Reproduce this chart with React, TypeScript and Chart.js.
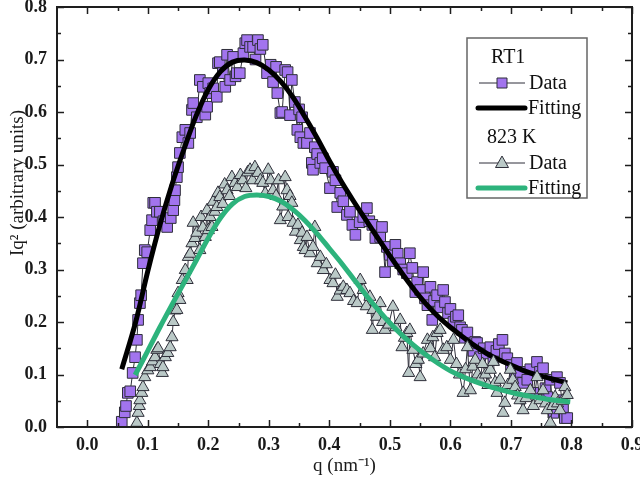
import React, { useEffect, useRef } from 'react';
import { Chart, registerables } from 'chart.js';

Chart.register(...registerables);

// ---- Data ----
const rt1Q = [0.057,0.062,0.064,0.067,0.071,0.075,0.079,0.082,0.084,0.087,0.089,0.092,0.095,0.099,0.104,0.107,0.109,0.112,0.115,0.120,0.126,0.132,0.138,0.142,0.144,0.145,0.148,0.150,0.153,0.157,0.162,0.167,0.170,0.173,0.175,0.181,0.186,0.191,0.195,0.198,0.200,0.203,0.208,0.214,0.216,0.219,0.224,0.228,0.231,0.236,0.241,0.245,0.247,0.252,0.258,0.261,0.264,0.269,0.274,0.278,0.282,0.286,0.290,0.297,0.303,0.307,0.312,0.314,0.319,0.322,0.327,0.331,0.335,0.338,0.343,0.347,0.350,0.352,0.355,0.357,0.363,0.368,0.371,0.373,0.376,0.380,0.385,0.389,0.393,0.401,0.406,0.410,0.413,0.418,0.423,0.429,0.434,0.438,0.443,0.450,0.456,0.462,0.466,0.471,0.476,0.484,0.487,0.492,0.495,0.500,0.505,0.509,0.513,0.517,0.522,0.528,0.533,0.537,0.542,0.545,0.550,0.555,0.558,0.562,0.567,0.570,0.573,0.578,0.583,0.588,0.591,0.596,0.600,0.605,0.609,0.613,0.616,0.619,0.624,0.628,0.633,0.638,0.641,0.644,0.649,0.655,0.660,0.666,0.671,0.676,0.680,0.686,0.690,0.694,0.700,0.707,0.710,0.716,0.720,0.727,0.732,0.737,0.743,0.748,0.753,0.757,0.760,0.765,0.770,0.776,0.781,0.784,0.786,0.789,0.793];
const rt1Iq2 = [0.010,0.028,0.040,0.065,0.068,0.103,0.133,0.166,0.204,0.236,0.251,0.312,0.337,0.333,0.375,0.394,0.427,0.427,0.410,0.410,0.392,0.381,0.398,0.413,0.432,0.451,0.476,0.495,0.522,0.552,0.566,0.541,0.560,0.604,0.617,0.590,0.661,0.648,0.595,0.610,0.655,0.636,0.645,0.629,0.693,0.695,0.674,0.648,0.709,0.661,0.705,0.668,0.674,0.674,0.712,0.731,0.737,0.724,0.724,0.700,0.737,0.720,0.728,0.674,0.690,0.657,0.686,0.636,0.598,0.600,0.680,0.676,0.594,0.661,0.619,0.566,0.605,0.552,0.590,0.541,0.541,0.560,0.503,0.490,0.533,0.520,0.503,0.512,0.493,0.455,0.486,0.470,0.419,0.446,0.430,0.404,0.410,0.385,0.366,0.390,0.400,0.417,0.392,0.385,0.360,0.362,0.381,0.295,0.343,0.328,0.316,0.347,0.330,0.312,0.300,0.293,0.331,0.303,0.257,0.276,0.261,0.295,0.245,0.232,0.267,0.204,0.240,0.251,0.228,0.261,0.238,0.217,0.225,0.200,0.210,0.213,0.190,0.185,0.170,0.180,0.156,0.145,0.162,0.160,0.133,0.150,0.140,0.152,0.128,0.145,0.158,0.166,0.140,0.131,0.118,0.095,0.122,0.105,0.084,0.090,0.110,0.065,0.124,0.105,0.112,0.074,0.057,0.090,0.027,0.095,0.084,0.051,0.038,0.017,0.017];

const k823Q = [0.082,0.084,0.086,0.087,0.090,0.092,0.095,0.100,0.104,0.108,0.112,0.115,0.117,0.121,0.124,0.125,0.129,0.133,0.137,0.140,0.142,0.145,0.148,0.150,0.153,0.157,0.162,0.165,0.167,0.170,0.173,0.175,0.178,0.181,0.186,0.188,0.191,0.195,0.198,0.200,0.203,0.206,0.208,0.211,0.214,0.216,0.219,0.224,0.227,0.231,0.235,0.239,0.244,0.248,0.253,0.257,0.262,0.265,0.269,0.273,0.277,0.282,0.286,0.290,0.294,0.299,0.303,0.307,0.312,0.316,0.319,0.323,0.327,0.330,0.332,0.335,0.338,0.340,0.344,0.348,0.352,0.355,0.357,0.360,0.363,0.368,0.373,0.376,0.380,0.385,0.390,0.395,0.401,0.406,0.410,0.413,0.418,0.423,0.429,0.434,0.440,0.446,0.451,0.456,0.461,0.467,0.471,0.472,0.478,0.484,0.488,0.492,0.498,0.505,0.510,0.517,0.520,0.524,0.528,0.531,0.533,0.538,0.543,0.547,0.550,0.555,0.562,0.567,0.571,0.574,0.578,0.583,0.588,0.594,0.600,0.605,0.610,0.615,0.621,0.625,0.628,0.633,0.637,0.641,0.645,0.649,0.653,0.658,0.662,0.666,0.671,0.674,0.677,0.682,0.687,0.690,0.695,0.699,0.703,0.707,0.711,0.715,0.720,0.725,0.732,0.737,0.743,0.748,0.753,0.757,0.760,0.765,0.769,0.773,0.777,0.781,0.785,0.789,0.793];
const k823Iq2 = [0.008,0.027,0.040,0.051,0.065,0.076,0.095,0.108,0.114,0.125,0.133,0.147,0.150,0.120,0.103,0.114,0.133,0.141,0.152,0.171,0.200,0.222,0.223,0.255,0.242,0.280,0.299,0.280,0.324,0.330,0.350,0.389,0.360,0.370,0.337,0.400,0.380,0.362,0.413,0.375,0.400,0.381,0.429,0.410,0.419,0.446,0.438,0.425,0.462,0.451,0.440,0.476,0.465,0.457,0.480,0.470,0.455,0.485,0.490,0.470,0.495,0.484,0.470,0.465,0.445,0.490,0.470,0.451,0.440,0.470,0.394,0.420,0.476,0.451,0.400,0.440,0.427,0.389,0.372,0.385,0.356,0.370,0.343,0.337,0.362,0.331,0.343,0.381,0.312,0.324,0.299,0.310,0.280,0.274,0.290,0.248,0.260,0.267,0.261,0.255,0.240,0.236,0.280,0.261,0.230,0.248,0.185,0.223,0.210,0.236,0.200,0.185,0.195,0.229,0.190,0.204,0.152,0.170,0.179,0.103,0.185,0.147,0.120,0.128,0.095,0.140,0.166,0.150,0.171,0.133,0.179,0.185,0.147,0.152,0.128,0.166,0.120,0.100,0.065,0.110,0.152,0.070,0.115,0.128,0.100,0.090,0.120,0.100,0.080,0.109,0.124,0.085,0.065,0.090,0.027,0.046,0.080,0.109,0.090,0.076,0.060,0.051,0.032,0.055,0.070,0.040,0.095,0.051,0.070,0.045,0.032,0.008,0.040,0.057,0.045,0.032,0.050,0.076,0.061];

const rt1FitQ = [0.057,0.08,0.10,0.12,0.14,0.16,0.18,0.20,0.22,0.24,0.26,0.28,0.30,0.32,0.34,0.36,0.38,0.40,0.42,0.44,0.46,0.48,0.50,0.52,0.54,0.56,0.58,0.60,0.62,0.64,0.66,0.68,0.70,0.72,0.74,0.76,0.78,0.793];
const rt1FitIq2 = [0.11,0.2,0.297,0.385,0.462,0.53,0.593,0.643,0.677,0.695,0.699,0.694,0.68,0.658,0.628,0.59,0.55,0.507,0.467,0.43,0.395,0.36,0.326,0.293,0.262,0.234,0.21,0.19,0.172,0.155,0.14,0.128,0.118,0.108,0.1,0.094,0.088,0.084];

const k823FitQ = [0.079,0.10,0.12,0.14,0.16,0.18,0.20,0.22,0.24,0.26,0.28,0.30,0.32,0.34,0.36,0.38,0.40,0.42,0.44,0.46,0.48,0.50,0.52,0.54,0.56,0.58,0.60,0.62,0.64,0.66,0.68,0.70,0.72,0.74,0.76,0.78,0.798];
const k823FitIq2 = [0.099,0.145,0.19,0.233,0.275,0.317,0.36,0.398,0.425,0.439,0.442,0.439,0.43,0.414,0.393,0.368,0.34,0.312,0.282,0.252,0.224,0.198,0.175,0.155,0.137,0.121,0.107,0.096,0.087,0.079,0.072,0.066,0.061,0.057,0.053,0.05,0.048];

const xTicks = [0.0,0.1,0.2,0.3,0.4,0.5,0.6,0.7,0.8,0.9];
const yTicks = [0.0,0.1,0.2,0.3,0.4,0.5,0.6,0.7,0.8];
const xMinor = [0.05,0.15,0.25,0.35,0.45,0.55,0.65,0.75,0.85];
const yMinor = [0.05,0.15,0.25,0.35,0.45,0.55,0.65,0.75];

const groupNames = ['RT1', '823 K'];
const rowNames = ['Data', 'Fitting'];
const xTitle = 'q (nm\u207B\u00B9)';
const yTitle = 'Iq\u00B2 (arbitrary units)';

// ---- Styles ----
const SERIF = '"Liberation Serif", "Times New Roman", serif';
const PURPLE = '#a274ee';
const GREY = '#bac9c7';
const GREEN = '#2db37c';
const EDGE = '#2f2f3a';
const AXIS = '#1e1e1e';

const pts = (q: number[], v: number[]) => q.map((x, i) => ({ x, y: v[i] }));

function drawFrame(chart: any) {
  const ctx: CanvasRenderingContext2D = chart.ctx;
  const a = chart.chartArea;
  const xs = chart.scales.x, ys = chart.scales.y;
  const L = a.left, R = a.right, T = a.top, B = a.bottom;
  ctx.save();
  ctx.strokeStyle = AXIS;
  ctx.lineWidth = 1.5;
  ctx.beginPath();
  const vt = (vals: number[], len: number) => {
    for (const v of vals) {
      const px = Math.round(xs.getPixelForValue(v)) + 0.5;
      ctx.moveTo(px, B); ctx.lineTo(px, B - len);
      ctx.moveTo(px, T); ctx.lineTo(px, T + len);
    }
  };
  const ht = (vals: number[], len: number) => {
    for (const v of vals) {
      const py = Math.round(ys.getPixelForValue(v)) + 0.5;
      ctx.moveTo(L, py); ctx.lineTo(L + len, py);
      ctx.moveTo(R, py); ctx.lineTo(R - len, py);
    }
  };
  vt(xTicks, 7); vt(xMinor, 4);
  ht(yTicks, 7); ht(yMinor, 4);
  ctx.stroke();
  ctx.lineWidth = 2;
  ctx.beginPath();
  ctx.moveTo(L, T); ctx.lineTo(R, T); ctx.lineTo(R, B); ctx.lineTo(L, B); ctx.closePath();
  ctx.stroke();
  ctx.restore();
}

function drawTitlesAndLegend(chart: any) {
  const ctx: CanvasRenderingContext2D = chart.ctx;
  const a = chart.chartArea;
  ctx.save();
  ctx.fillStyle = '#1a1a1a';
  ctx.font = `19px ${SERIF}`;
  ctx.textAlign = 'center';
  ctx.textBaseline = 'middle';
  ctx.fillText(xTitle, (a.left + a.right) / 2, 466);
  ctx.translate(18, 183);
  ctx.rotate(-Math.PI / 2);
  ctx.fillText(yTitle, 0, 0);
  ctx.restore();

  const bx = a.right - 165, by = a.top + 31, bw = 120, bh = 160;
  ctx.save();
  ctx.strokeStyle = '#666';
  ctx.lineWidth = 1.5;
  ctx.strokeRect(bx, by, bw, bh);
  ctx.font = `20px ${SERIF}`;
  ctx.textBaseline = 'middle';
  ctx.textAlign = 'left';
  const groups = [
    { name: groupNames[0], nameX: bx + 24, y0: by + 20, marker: 'rect', fill: PURPLE, fit: '#000' },
    { name: groupNames[1], nameX: bx + 20, y0: by + 100, marker: 'triangle', fill: GREY, fit: GREEN },
  ];
  groups.forEach((g) => {
    ctx.fillStyle = '#111';
    ctx.fillText(g.name, g.nameX, g.y0);
    const yd = g.y0 + 25, yf = g.y0 + 50;
    ctx.strokeStyle = EDGE; ctx.lineWidth = 1;
    ctx.beginPath(); ctx.moveTo(bx + 12, yd); ctx.lineTo(bx + 58, yd); ctx.stroke();
    const cx = bx + 35;
    ctx.fillStyle = g.fill;
    ctx.beginPath();
    if (g.marker === 'rect') {
      ctx.rect(cx - 5, yd - 5, 10, 10);
    } else {
      ctx.moveTo(cx, yd - 7); ctx.lineTo(cx + 6.5, yd + 4.5); ctx.lineTo(cx - 6.5, yd + 4.5); ctx.closePath();
    }
    ctx.fill(); ctx.stroke();
    ctx.fillStyle = '#111';
    ctx.fillText(rowNames[0], bx + 62, yd + 1);
    ctx.strokeStyle = g.fit; ctx.lineWidth = 5; ctx.lineCap = 'round';
    ctx.beginPath(); ctx.moveTo(bx + 11, yf); ctx.lineTo(bx + 58, yf); ctx.stroke();
    ctx.lineCap = 'butt';
    ctx.fillText(rowNames[1], bx + 61, yf + 1);
  });
  ctx.restore();
}

const decorPlugin = {
  id: 'decor',
  afterDraw(chart: any) {
    drawFrame(chart);
    drawTitlesAndLegend(chart);
  },
};

export default function App() {
  const ref = useRef<HTMLCanvasElement>(null);
  useEffect(() => {
    document.body.style.margin = '0';
    const tickFont = { family: SERIF, size: 18, weight: 'bold' as const };
    const chart = new Chart(ref.current!, {
      type: 'scatter',
      data: {
        datasets: [
          {
            label: '823 K Fitting', data: pts(k823FitQ, k823FitIq2), showLine: true,
            borderColor: GREEN, borderWidth: 5, pointRadius: 0, tension: 0.35, order: 0,
          },
          {
            label: '823 K Data', data: pts(k823Q, k823Iq2), showLine: true,
            borderColor: EDGE, borderWidth: 1, pointStyle: 'triangle', pointRadius: 7,
            pointBackgroundColor: GREY, pointBorderColor: EDGE, pointBorderWidth: 1, order: 1,
          },
          {
            label: 'RT1 Fitting', data: pts(rt1FitQ, rt1FitIq2), showLine: true,
            borderColor: '#000', borderWidth: 5, pointRadius: 0, tension: 0.35, order: 2,
          },
          {
            label: 'RT1 Data', data: pts(rt1Q, rt1Iq2), showLine: true,
            borderColor: EDGE, borderWidth: 1, pointStyle: 'rect', pointRadius: 7.5,
            pointBackgroundColor: PURPLE, pointBorderColor: EDGE, pointBorderWidth: 1, order: 3,
          },
        ] as any,
      },
      options: {
        animation: false,
        responsive: false,
        layout: { padding: { top: 7, right: 8, left: 0, bottom: 0 }, autoPadding: false },
        plugins: { legend: { display: false }, tooltip: { enabled: false } },
        scales: {
          x: {
            type: 'linear', min: -0.05, max: 0.9,
            grid: { display: false, drawTicks: false },
            border: { display: false },
            afterBuildTicks: (s: any) => { s.ticks = xTicks.map((v) => ({ value: v })); },
            afterFit: (s: any) => { s.height = 51; s.paddingLeft = 0; s.paddingRight = 0; },
            ticks: {
              padding: 8, color: '#1a1a1a', font: tickFont, maxRotation: 0, autoSkip: false,
              callback: (v: any) => Number(v).toFixed(1),
            },
          },
          y: {
            type: 'linear', min: 0, max: 0.8,
            grid: { display: false, drawTicks: false },
            border: { display: false },
            afterBuildTicks: (s: any) => { s.ticks = yTicks.map((v) => ({ value: v })); },
            afterFit: (s: any) => { s.width = 57; s.paddingTop = 0; s.paddingBottom = 0; },
            ticks: {
              padding: 10, color: '#1a1a1a', font: tickFont, autoSkip: false,
              callback: (v: any) => Number(v).toFixed(1),
            },
          },
        },
      } as any,
      plugins: [decorPlugin],
    });
    return () => chart.destroy();
  }, []);
  return <canvas ref={ref} width={640} height={478} style={{ display: 'block' }} />;
}
